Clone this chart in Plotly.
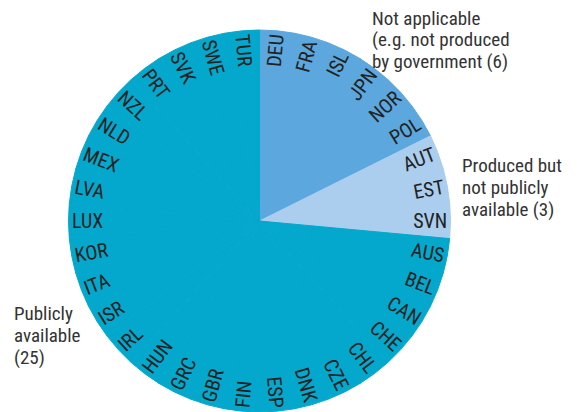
import plotly.graph_objects as go

# Countries in clockwise order starting at 12 o'clock
not_applicable = ["DEU", "FRA", "ISL", "JPN", "NOR", "POL"]
produced_not_public = ["AUT", "EST", "SVN"]
publicly_available = ["AUS", "BEL", "CAN", "CHE", "CHL", "CZE", "DNK", "ESP", "FIN",
                      "GBR", "GRC", "HUN", "IRL", "ISR", "ITA", "KOR", "LUX", "LVA",
                      "MEX", "NLD", "NZL", "PRT", "SVK", "SWE", "TUR"]

# group label lines
group_lines = [["Not applicable", "(e.g. not produced", "by government (6)"],
               ["Produced but", "not publicly", "available (3)"],
               ["Publicly", "available", "(25)"]]
group_colors = ["#5BA7DE", "#ABCDEE", "#05A8CD"]

labels = not_applicable + produced_not_public + publicly_available
values = [1] * len(labels)
colors = ([group_colors[0]] * len(not_applicable)
          + [group_colors[1]] * len(produced_not_public)
          + [group_colors[2]] * len(publicly_available))

FONT = "Roboto Condensed, Roboto, Liberation Sans, Arial, sans-serif"
W, H = 569, 404
MT = 22

fig = go.Figure(go.Pie(
    labels=labels,
    values=values,
    text=labels,
    textinfo="text",
    textposition="inside",
    insidetextorientation="radial",
    insidetextfont=dict(family=FONT, size=20, color="#222222"),
    marker=dict(colors=colors, line=dict(color=colors, width=1)),
    sort=False,
    direction="clockwise",
    rotation=0,
    showlegend=False,
    hoverinfo="label",
    domain=dict(x=[0.10633, 0.77768], y=[0, 1]),
))

ann_font = dict(family=FONT, size=19, color="#333333")
group_x = [0.6362, 0.7944, 0.00703]
group_y = [[1.0655, 1.0092, 0.9529],
           [0.6812, 0.6225, 0.5649],
           [0.2945, 0.2369, 0.1793]]
for lines, gx, gys in zip(group_lines, group_x, group_y):
    for line, gy in zip(lines, gys):
        fig.add_annotation(text=line, x=gx, y=gy, xref="paper", yref="paper",
                           xanchor="left", yanchor="top", align="left",
                           showarrow=False, font=ann_font)

fig.update_layout(
    width=W, height=H,
    margin=dict(l=0, r=0, t=MT, b=0),
    paper_bgcolor="white",
    plot_bgcolor="white",
    font=dict(family=FONT),
)

fig.write_html("out.html")
